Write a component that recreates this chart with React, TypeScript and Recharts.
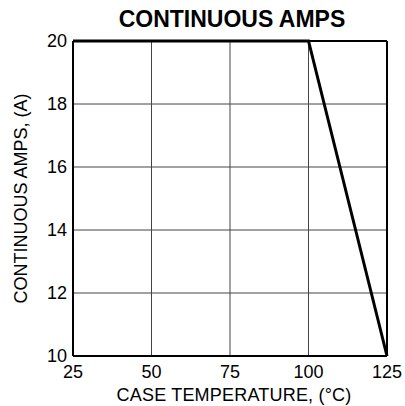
import {
  LineChart,
  Line,
  XAxis,
  YAxis,
  CartesianGrid,
  ReferenceLine,
  Label,
} from 'recharts';

// derating curve
const temps = [25, 100, 125];
const amps = [20, 20, 10];
const xTicks = [25, 50, 75, 100, 125];
const yTicks = [10, 12, 14, 16, 18, 20];

const data = temps.map((t, i) => ({ temp: t, amps: amps[i] }));

const font = '"Liberation Sans", Arial, Helvetica, sans-serif';

export default function App() {
  return (
    <div style={{ position: 'absolute', left: 0, top: 0, width: 405, height: 406, background: '#fff', fontFamily: font }}>
      <div
        style={{
          position: 'absolute',
          left: 75,
          width: 314,
          top: 6,
          textAlign: 'center',
          fontWeight: 'bold',
          fontSize: 23,
          lineHeight: 'normal',
          color: '#000',
        }}
      >
        CONTINUOUS AMPS
      </div>
      <LineChart
        width={405}
        height={406}
        data={data}
        margin={{ top: 41, right: 18, left: 0, bottom: 0 }}
      >
        <CartesianGrid stroke="#444" strokeWidth={1} />
        <XAxis
          dataKey="temp"
          type="number"
          domain={[25, 125]}
          ticks={xTicks}
          height={50}
          tickSize={0}
          tickMargin={9}
          axisLine={{ stroke: '#000', strokeWidth: 2 }}
          tick={{ fill: '#000', fontSize: 18, fontFamily: font }}
        >
          <Label
            value="CASE TEMPERATURE, (°C)"
            position="insideBottom"
            offset={5}
            dx={4}
            style={{ fill: '#000', fontSize: 18, fontFamily: font, letterSpacing: 0.2 }}
          />
        </XAxis>
        <YAxis
          type="number"
          domain={[10, 20]}
          ticks={yTicks}
          width={73}
          tickSize={0}
          tickMargin={6}
          axisLine={{ stroke: '#000', strokeWidth: 2 }}
          tick={{ fill: '#000', fontSize: 18, fontFamily: font }}
        >
          <Label
            value="CONTINUOUS AMPS, (A)"
            angle={-90}
            position="insideLeft"
            offset={21}
            style={{ fill: '#000', fontSize: 18, fontFamily: font, textAnchor: 'middle' }}
          />
        </YAxis>
        <ReferenceLine y={20} stroke="#000" strokeWidth={2} />
        <ReferenceLine x={125} stroke="#000" strokeWidth={2} />
        <Line
          type="linear"
          dataKey="amps"
          stroke="#000"
          strokeWidth={3}
          dot={false}
          isAnimationActive={false}
        />
      </LineChart>
    </div>
  );
}
